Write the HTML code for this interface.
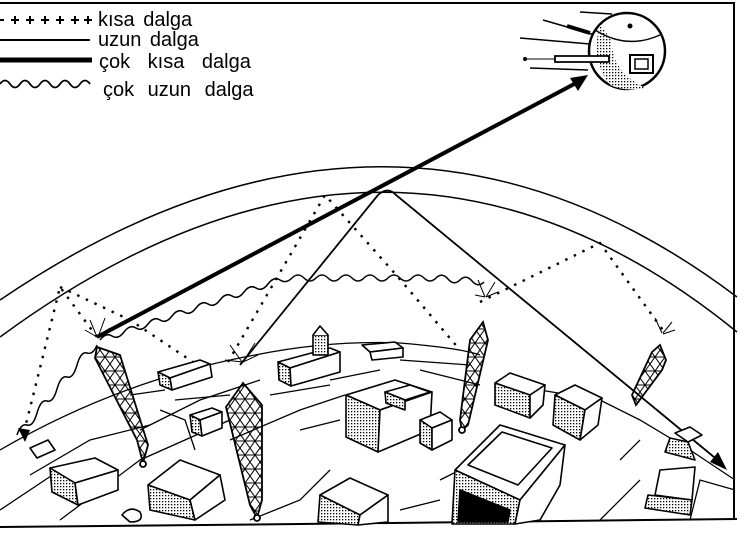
<!DOCTYPE html>
<html><head><meta charset="utf-8"><style>
html,body{margin:0;padding:0;background:#fff;}
svg{display:block;}
text{font-family:"Liberation Sans",sans-serif;fill:#000;}
</style></head><body>
<svg width="750" height="538" viewBox="0 0 750 538" xmlns="http://www.w3.org/2000/svg">
<defs>
<pattern id="st" width="3" height="3" patternUnits="userSpaceOnUse"><rect width="3" height="3" fill="#fff"/><rect width="1.3" height="1.3" fill="#000"/></pattern>
<pattern id="lat" width="10" height="14" patternUnits="userSpaceOnUse"><path d="M0 0 L10 14 M10 0 L0 14 M0 7 H10" stroke="#000" stroke-width="1" fill="none"/></pattern>
</defs>
<rect width="750" height="538" fill="#fff"/>
<!-- borders -->
<g stroke="#000" stroke-width="2" fill="none">
<path d="M0 3 H734 V520"/>
<path d="M0 527 L300 524 L737 519"/>
</g>
<!-- legend -->
<g stroke="#000" stroke-width="2">
<path d="M0 20 H4 M11 20 H19 M15 16 V24 M26 20 H34 M30 16 V24 M41 20 H49 M45 16 V24 M56 20 H64 M60 16 V24 M71 20 H79 M75 16 V24 M84 20 H92 M88 16 V24"/>
</g>
<path d="M0 40 H90" stroke="#000" stroke-width="2"/>
<path d="M0 60 H92" stroke="#000" stroke-width="5"/>
<path d="M0 84 q5 -7 10 0 t10 0 t10 0 t10 0 t10 0 t10 0 t10 0 t10 0 t10 0" fill="none" stroke="#000" stroke-width="1.8"/>
<text x="98" y="26" font-size="20" word-spacing="3">kısa dalga</text>
<text x="98" y="46" font-size="20" word-spacing="3">uzun dalga</text>
<text x="99" y="68" font-size="20" word-spacing="12">çok kısa dalga</text>
<text x="103" y="96" font-size="20" word-spacing="8">çok uzun dalga</text>
<!-- satellite -->
<g stroke="#000" stroke-width="1.5">
<line x1="543" y1="20" x2="595" y2="35"/><line x1="567" y1="26" x2="590" y2="33" stroke-width="4"/>
<line x1="520" y1="38" x2="590" y2="44"/><line x1="530" y1="68" x2="588" y2="70"/>
<line x1="580" y1="12" x2="612" y2="14"/>
</g>
<circle cx="627" cy="51" r="38" fill="#fff" stroke="#000" stroke-width="2.5"/>
<path d="M600 25 Q590 60 610 85 Q625 92 645 88 Q610 70 612 40 Z" fill="url(#st)"/>
<path d="M595 30 Q627 50 660 35" fill="none" stroke="#000" stroke-width="1.5"/>
<circle cx="630" cy="26" r="2.5" fill="#000"/>
<rect x="630" y="55" width="23" height="18" fill="#fff" stroke="#000" stroke-width="2"/>
<rect x="635" y="59" width="13" height="10" fill="none" stroke="#000" stroke-width="1.5"/>
<path d="M555 56 H609 V62 H555 Z" fill="#fff" stroke="#000" stroke-width="1.8"/>
<circle cx="525" cy="59" r="2" fill="#000"/><line x1="525" y1="59" x2="555" y2="59" stroke="#000"/>
<!-- dome arcs -->
<g fill="none" stroke="#000" stroke-width="1.5">
<path d="M0 300 Q390 35 737 297"/>
<path d="M0 337 Q390 50 737 332"/>
</g>
<!-- thick arrow -->
<line x1="97" y1="337" x2="578" y2="82" stroke="#000" stroke-width="4"/>
<polygon points="588,75 570,78 578,91" fill="#000"/>
<!-- long wave solid -->
<g fill="none" stroke="#000" stroke-width="1.8">
<path d="M240 365 L378 195 Q388 186 396 195 L720 462"/>
</g>
<polygon points="727,470 710,462 718,452" fill="#000"/>
<!-- short wave -->
<g fill="none" stroke="#000" stroke-width="2.4" stroke-dasharray="2.5 7">
<path d="M97 337 L60 287 L42 360 L24 432"/>
<path d="M60 287 L130 320 L205 370"/>
<path d="M228 362 L325 195 L398 277 L460 350"/>
<path d="M480 302 L600 243 L665 333"/>
</g>
<polygon points="25,442 18,428 30,430" fill="#000"/>
<!-- very long wave -->
<path d="M100 340 q6 -8 12 -4 t12 -4 t12 -4 t12 -4 t12 -4 t12 -4 t12 -4 t12 -4 t12 -4 t12 -4 t12 -4 t12 -4 t12 -4 t12 -4 t12 -4 t12 -2 t12 0 t12 0 t12 0 t12 0 t12 0 t12 0 t12 0 t12 0 t12 0 t12 0 t12 0 t12 0 t12 1 t12 1 t12 1 t12 1" fill="none" stroke="#000" stroke-width="1.5"/>
<path d="M97 345 q-4 10 -10 8 t-10 12 t-10 12 t-10 12 t-10 12 t-10 12 t-10 12 t-10 10" fill="none" stroke="#000" stroke-width="1.5"/>
<!-- ground / roads -->
<g fill="none" stroke="#000" stroke-width="1.3">
<path d="M0 450 Q120 380 255 355 Q330 340 400 343 Q460 348 480 355"/>
<path d="M0 510 L60 470 M130 395 L165 390 M140 430 L200 400 L260 380"/>
<path d="M160 410 L185 420 L195 450 M60 520 L140 460 L230 420"/>
<path d="M30 475 L90 440 L150 425 M230 440 L300 410 L345 395"/>
<path d="M300 430 L340 420 M330 470 L300 500 L250 520"/>
<path d="M400 360 L470 365 M420 370 L480 385 M330 380 L380 370"/>
<path d="M540 390 L600 400 L640 420 L690 450 L735 480"/>
<path d="M620 460 L640 440 M600 520 L640 480 M690 520 L700 480 L735 490"/>
<path d="M440 480 L460 470 M400 510 L440 500"/>
<path d="M175 400 L230 395 M270 395 L330 385"/>
</g>
<!-- towers -->
<g stroke="#000" stroke-width="1.8">
<path d="M97 347 L95 358 L137 440 L143 463 L148 445 L120 355 Z" fill="url(#lat)"/>
<circle cx="143" cy="464" r="3" fill="#fff"/>
<path d="M243 383 L226 407 L250 505 L257 518 L262 500 L262 405 Z" fill="url(#lat)"/>
<circle cx="257" cy="518" r="3" fill="#fff"/>
<path d="M483 322 L470 340 L460 420 L462 430 L468 425 L488 340 Z" fill="url(#lat)"/>
<circle cx="462" cy="430" r="3" fill="#fff"/>
<path d="M660 345 L652 352 L632 395 L636 405 L662 370 L666 360 Z" fill="url(#lat)"/>
</g>
<!-- sparks -->
<g stroke="#000" stroke-width="1">
<path d="M90 320 L97 337 M105 318 L98 337 M85 330 L97 337 M110 328 L98 337"/>
<path d="M230 345 L242 362 M255 343 L243 362 M225 360 L242 362 M258 355 L243 362"/>
<path d="M478 280 L485 297 M495 282 L486 297 M475 295 L485 297 M498 292 L486 297"/>
<path d="M655 318 L662 333 M672 322 L663 333 M675 330 L663 334"/>
</g>
<!-- buildings -->
<g stroke="#000" stroke-width="1.6" stroke-linejoin="round">
<path d="M158 372 L200 360 L210 364 L170 378 Z" fill="#fff"/>
<path d="M158 372 L170 378 L172 390 L160 385 Z" fill="url(#st)"/>
<path d="M170 378 L210 364 L212 377 L172 390 Z" fill="#fff"/>
<path d="M190 415 L212 408 L222 412 L200 420 Z" fill="#fff"/>
<path d="M190 415 L200 420 L202 436 L192 432 Z" fill="url(#st)"/>
<path d="M200 420 L222 412 L222 428 L202 436 Z" fill="#fff"/>
<path d="M278 362 L330 348 L340 352 L290 368 Z" fill="#fff"/>
<path d="M278 362 L290 368 L291 386 L279 380 Z" fill="url(#st)"/>
<path d="M290 368 L340 352 L340 372 L291 386 Z" fill="#fff"/>
<rect x="313" y="335" width="15" height="20" fill="url(#st)"/>
<path d="M313 335 L320 326 L328 335" fill="#fff"/>
<path d="M362 345 L395 342 L403 348 L370 352 Z" fill="#fff"/>
<path d="M370 352 L403 348 L403 357 L372 360 Z" fill="#fff"/>
<path d="M346 395 L395 380 L432 392 L380 410 Z" fill="#fff"/>
<path d="M346 395 L380 410 L378 452 L346 437 Z" fill="url(#st)"/>
<path d="M380 410 L432 392 L430 430 L378 452 Z" fill="#fff"/>
<path d="M385 392 L410 385 L430 392 L405 400 Z" fill="#fff"/>
<path d="M385 392 L405 400 L405 410 L386 403 Z" fill="url(#st)"/>
<path d="M420 420 L440 412 L452 420 L432 428 Z" fill="#fff"/>
<path d="M420 420 L432 428 L432 450 L420 443 Z" fill="url(#st)"/>
<path d="M432 428 L452 420 L452 440 L432 450 Z" fill="#fff"/>
<path d="M495 383 L510 373 L545 385 L530 395 Z" fill="#fff"/>
<path d="M495 383 L530 395 L530 418 L495 405 Z" fill="url(#st)"/>
<path d="M530 395 L545 385 L543 405 L530 418 Z" fill="#fff"/>
<path d="M555 395 L575 385 L602 398 L585 410 Z" fill="#fff"/>
<path d="M555 395 L585 410 L580 440 L553 425 Z" fill="url(#st)"/>
<path d="M585 410 L602 398 L598 425 L580 440 Z" fill="#fff"/>
<path d="M455 470 L500 425 L565 445 L520 500 Z" fill="#fff"/>
<path d="M468 465 L502 432 L552 448 L518 485 Z" fill="#fff"/>
<path d="M455 470 L520 500 L515 524 L452 524 Z" fill="url(#st)"/>
<path d="M460 490 L510 510 L508 522 L458 522 Z" fill="#000"/>
<path d="M520 500 L565 445 L560 485 L540 520 L515 524 Z" fill="#fff"/>
<path d="M675 433 L690 427 L702 435 L688 442 Z" fill="#fff"/>
<path d="M670 438 L688 442 L695 460 L665 452 Z" fill="url(#st)"/>
<path d="M660 470 L695 467 L692 500 L655 495 Z" fill="#fff"/>
<path d="M648 495 L692 500 L690 515 L645 508 Z" fill="url(#st)"/>
<path d="M50 468 L95 458 L118 470 L75 483 Z" fill="#fff"/>
<path d="M50 468 L75 483 L78 505 L52 492 Z" fill="url(#st)"/>
<path d="M75 483 L118 470 L118 490 L78 505 Z" fill="#fff"/>
<path d="M148 485 L180 460 L220 475 L190 500 Z" fill="#fff"/>
<path d="M148 485 L190 500 L195 520 L150 510 Z" fill="url(#st)"/>
<path d="M190 500 L220 475 L225 500 L195 520 Z" fill="#fff"/>
<path d="M30 448 L48 440 L55 450 L37 458 Z" fill="#fff"/>
<path d="M320 495 L350 478 L388 495 L360 515 Z" fill="#fff"/>
<path d="M320 495 L360 515 L358 525 L318 522 Z" fill="url(#st)"/>
<path d="M360 515 L388 495 L388 522 L358 525 Z" fill="#fff"/>
<path d="M122 515 Q130 505 140 512 Q145 522 130 522 Z" fill="#fff"/>
</g>
</svg>
</body></html>
